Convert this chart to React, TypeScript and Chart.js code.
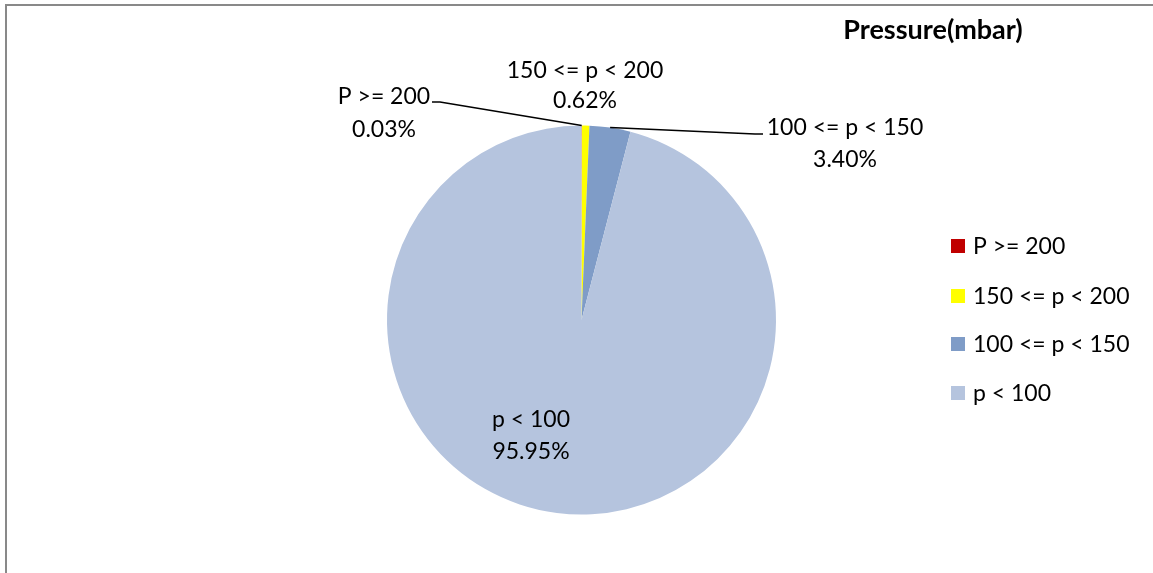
import React, { useEffect, useRef } from "react";
import { Chart, registerables } from "chart.js";

Chart.register(...registerables);

const categories = ["P >= 200", "150 <= p < 200", "100 <= p < 150", "p < 100"];
const shares = [0.03, 0.62, 3.4, 95.95];
const shareLabels = ["0.03%", "0.62%", "3.40%", "95.95%"];
const colors = ["#C00000", "#FFFF00", "#7F9CC7", "#B5C4DE"];
const title = "Pressure(mbar)";

const FONT = "Lato, 'Open Sans', sans-serif";

// label placement: text centre (x, y of first line), line gap and optional leader elbow
const labelLayout = [
  { x: 384, y: 97, gap: 33, elbow: [440, 102], end: [432, 102] },
  { x: 585, y: 71, gap: 30, elbow: null, end: null },
  { x: 845, y: 128, gap: 32, elbow: [755, 134], end: [763, 134] },
  { x: 531, y: 420, gap: 32, elbow: null, end: null },
];

const overlay = {
  id: "overlay",
  afterDraw(chart: any) {
    const ctx = chart.ctx as CanvasRenderingContext2D;
    const meta = chart.getDatasetMeta(0);
    ctx.save();
    // frame
    ctx.fillStyle = "#898989";
    ctx.fillRect(5, 4, chart.width - 5, 2);
    ctx.fillRect(5, 4, 2, chart.height - 4);

    // title
    ctx.fillStyle = "#000";
    ctx.font = `bold 27px ${FONT}`;
    ctx.textAlign = "center";
    ctx.textBaseline = "middle";
    ctx.fillText(title, 933, 30);

    // data labels
    ctx.font = `23px ${FONT}`;
    meta.data.forEach((arc: any, i: number) => {
      const L = labelLayout[i];
      if (L.elbow && L.end) {
        const mid = (arc.startAngle + arc.endAngle) / 2;
        const ax = arc.x + Math.cos(mid) * arc.outerRadius;
        const ay = arc.y + Math.sin(mid) * arc.outerRadius;
        ctx.strokeStyle = "#000";
        ctx.lineWidth = 1.5;
        ctx.beginPath();
        ctx.moveTo(ax, ay);
        ctx.lineTo(L.elbow[0], L.elbow[1]);
        ctx.lineTo(L.end[0], L.end[1]);
        ctx.stroke();
      }
      ctx.fillStyle = "#000";
      ctx.fillText(categories[i], L.x, L.y);
      ctx.fillText(shareLabels[i], L.x, L.y + L.gap);
    });

    // legend
    const legendRows = [246, 296, 344, 393];
    ctx.textAlign = "left";
    categories.forEach((c, i) => {
      ctx.fillStyle = colors[i];
      ctx.fillRect(951, legendRows[i] - 7, 14, 14);
      ctx.fillStyle = "#000";
      ctx.fillText(c, 973, legendRows[i] + 1);
    });
    ctx.restore();
  },
};

export default function App() {
  const ref = useRef<HTMLCanvasElement>(null);
  useEffect(() => {
    if (!ref.current) return;
    const chart = new Chart(ref.current, {
      type: "pie",
      data: {
        labels: categories,
        datasets: [
          {
            data: shares,
            backgroundColor: colors,
            borderWidth: 0,
          },
        ],
      },
      options: {
        animation: false,
        responsive: false,
        maintainAspectRatio: false,
        layout: { padding: { left: 387, right: 377, top: 125.5, bottom: 58.5 } },
        plugins: {
          legend: { display: false },
          tooltip: { enabled: false },
          title: { display: false },
        },
      },
      plugins: [overlay],
    });
    return () => chart.destroy();
  }, []);
  return (
    <div style={{ position: "absolute", left: 0, top: 0, width: 1153, height: 573, background: "#fff" }}>
      <canvas ref={ref} width={1153} height={573} style={{ display: "block", width: 1153, height: 573 }} />
    </div>
  );
}
